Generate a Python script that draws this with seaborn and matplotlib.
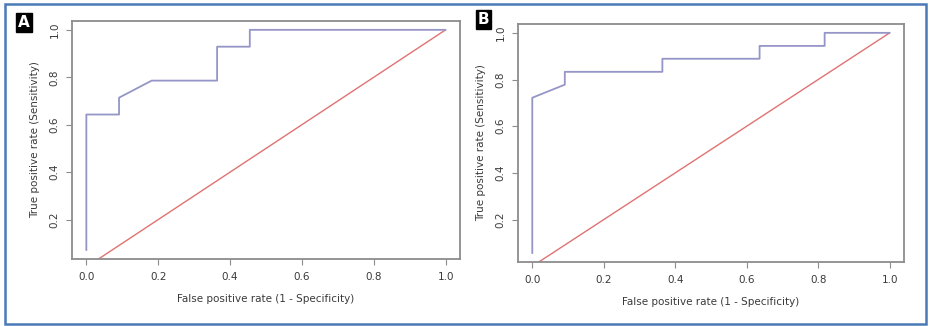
import seaborn as sns
import pandas as pd
import matplotlib as mpl
from matplotlib import pyplot as plt
from matplotlib.patches import Rectangle

# ROC curve A (14 positives, 11 negatives)
fpr_a = [0.0, 0.0, 0.091, 0.091, 0.182, 0.364, 0.364, 0.455, 0.455, 1.0]
tpr_a = [0.071, 0.643, 0.643, 0.714, 0.786, 0.786, 0.929, 0.929, 1.0, 1.0]

# ROC curve B (18 positives, 11 negatives)
fpr_b = [0.0, 0.0, 0.091, 0.091, 0.364, 0.364, 0.636, 0.636, 0.818, 0.818, 1.0]
tpr_b = [0.056, 0.722, 0.778, 0.833, 0.833, 0.889, 0.889, 0.944, 0.944, 1.0, 1.0]

# chance diagonal
diag_x = [0.0, 1.0]
diag_y = [0.0, 1.0]

panel_labels = ['A', 'B']
xticks = [0.0, 0.2, 0.4, 0.6, 0.8, 1.0]
yticks = [0.2, 0.4, 0.6, 0.8, 1.0]

sns.set_theme(style="white")
plt.rcParams['font.family'] = ['DejaVu Sans']

roc_color = '#9595c8'
diag_color = '#e07272'
frame_color = '#8c8c8c'
text_color = '#3a3a3a'

fig = plt.figure(figsize=(9.36, 3.26), dpi=100)

axes_pos = [[0.0769, 0.2055, 0.4145, 0.730],
            [0.5534, 0.1963, 0.4124, 0.730]]
label_pos = [(18, 15), (478, 12)]

curves = [(fpr_a, tpr_a), (fpr_b, tpr_b)]

for i, (fpr, tpr) in enumerate(curves):
    ax = fig.add_axes(axes_pos[i])
    roc = pd.DataFrame({'fpr': fpr, 'tpr': tpr})
    diag = pd.DataFrame({'x': diag_x, 'y': diag_y})
    sns.lineplot(data=diag, x='x', y='y', ax=ax, color=diag_color,
                 linewidth=1.0, sort=False, estimator=None)
    sns.lineplot(data=roc, x='fpr', y='tpr', ax=ax, color=roc_color,
                 linewidth=1.3, sort=False, estimator=None)

    # R-style 4% padding around the data range
    ymin = min(tpr)
    pad = (1.0 - ymin) * 0.04
    ax.set_xlim(-0.04, 1.04)
    ax.set_ylim(ymin - pad, 1.0 + pad)

    ax.set_xticks(xticks)
    ax.set_xticklabels([f'{t:.1f}' for t in xticks])
    ax.set_yticks(yticks)
    ax.set_yticklabels([f'{t:.1f}' for t in yticks], rotation=90, va='center')
    ax.tick_params(axis='both', direction='out', length=4, width=0.8,
                   color=frame_color, labelcolor=text_color, labelsize=7.5,
                   bottom=True, left=True, pad=5)
    for s in ax.spines.values():
        s.set_color(frame_color)
        s.set_linewidth(1.3)

    ax.set_xlabel('False positive rate (1 - Specificity)', fontsize=7.5,
                  color=text_color, labelpad=9)
    ax.set_ylabel('True positive rate (Sensitivity)', fontsize=7.5,
                  color=text_color, labelpad=7)

    # panel letter in black box
    lx, ly = label_pos[i]
    fig.text(lx / 936, 1 - ly / 326, panel_labels[i], fontsize=11,
             fontweight='bold', color='white', ha='left', va='top',
             bbox=dict(boxstyle='square,pad=0.12', fc='black', ec='black'))

# outer blue frame
fig.patches.append(Rectangle((5 / 936, 2 / 326), 921 / 936, 320 / 326,
                             transform=fig.transFigure, fill=False,
                             edgecolor='#4a7ab8', linewidth=1.8))

plt.savefig('out.png', dpi=100)
